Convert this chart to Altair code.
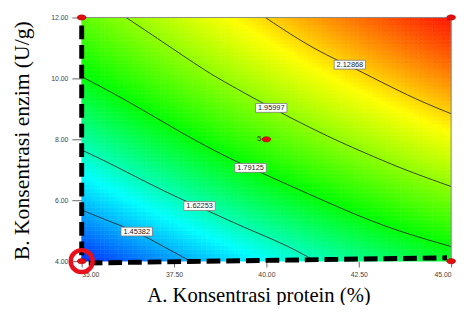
import numpy as np
import pandas as pd
import altair as alt

# ---- data ----
levels = [1.45382, 1.62253, 1.79125, 1.95997, 2.12868]
level_labels = ["1.45382", "1.62253", "1.79125", "1.95997", "2.12868"]

c1_x = [35.0, 35.72, 36.49, 37.18, 37.90]
c1_y = [5.68, 5.32, 4.97, 4.50, 4.03]
c2_x = [35.0, 35.72, 36.70, 37.71, 38.19, 39.44, 40.51, 41.30]
c2_y = [7.65, 7.24, 6.62, 6.02, 5.78, 5.08, 4.55, 4.02]
c3_x = [35.0, 36.25, 37.85, 38.99, 39.57, 41.70, 42.90, 43.96, 45.0]
c3_y = [10.06, 9.26, 8.10, 7.38, 7.06, 5.90, 5.28, 4.84, 4.48]
c4_x = [36.20, 37.13, 38.38, 38.99, 40.13, 41.70, 42.98, 43.78, 45.0]
c4_y = [12.0, 11.25, 10.22, 9.80, 9.03, 8.06, 7.39, 6.98, 6.45]
c5_x = [39.97, 40.90, 41.65, 42.29, 43.43, 44.23, 45.0]
c5_y = [12.0, 11.25, 10.75, 10.39, 9.68, 9.22, 8.84]

label_x = [36.49, 38.19, 39.57, 40.13, 42.26]
label_y = [4.97, 5.81, 7.06, 9.03, 10.45]

design_x = [35, 45, 45, 35, 40]
design_y = [12, 12, 4, 4, 8]
center_label = ["", "", "", "", "5"]

x_ticks = [35, 37.5, 40, 42.5, 45]
y_ticks = [4, 6, 8, 10, 12]

# colour positions (response values) of cyan, green, yellow
mid_stops = [1.55, 1.80, 2.09]
stop_colors = ["#0030ff", "#00ffff", "#00ff00", "#ffff00", "#ff1a00"]

# ---- fitted quadratic response surface from the traced contours ----
cx = [c1_x, c2_x, c3_x, c4_x, c5_x]
cy = [c1_y, c2_y, c3_y, c4_y, c5_y]
rows = []
for k, (xs, ys) in enumerate(zip(cx, cy)):
    for i, (a, b) in enumerate(zip(xs, ys)):
        rows.append({"level": level_labels[k], "idx": i, "x": a, "y": b, "v": levels[k]})
contours = pd.DataFrame(rows)

A = (contours["x"].values - 40) / 5
B = (contours["y"].values - 8) / 4
M = np.column_stack([np.ones_like(A), A, B, A * B, A * A, B * B])
coef, *_ = np.linalg.lstsq(M, contours["v"].values, rcond=None)

nx, ny = 80, 64
xe = np.linspace(35, 45, nx + 1)
ye = np.linspace(4, 12, ny + 1)
xc = (xe[:-1] + xe[1:]) / 2
yc = (ye[:-1] + ye[1:]) / 2
GX, GY = np.meshgrid(xc, yc)
ga = (GX - 40) / 5
gb = (GY - 8) / 4
V = coef[0] + coef[1] * ga + coef[2] * gb + coef[3] * ga * gb + coef[4] * ga ** 2 + coef[5] * gb ** 2
I, J = np.meshgrid(np.arange(nx), np.arange(ny))
grid = pd.DataFrame({
    "x0": xe[I.ravel()], "x1": xe[I.ravel() + 1],
    "y0": ye[J.ravel()], "y1": ye[J.ravel() + 1],
    "v": V.ravel(),
})
vmin, vmax = float(V.min()), float(V.max())
stops = [min(vmin, mid_stops[0] - 0.1)] + mid_stops + [max(vmax, mid_stops[-1] + 0.1)]

xs_ = alt.Scale(domain=[35, 45], nice=False, zero=False)
ys_ = alt.Scale(domain=[4, 12], nice=False, zero=False)
cs = alt.Scale(domain=stops, range=stop_colors, interpolate="rgb")

xaxis = alt.Axis(values=x_ticks, format=".2f", title="A. Konsentrasi protein (%)",
                 titleFont="Liberation Serif", titleFontSize=21, titleFontWeight="normal",
                 titleColor="black", titleX=180, titleY=41, titleBaseline="alphabetic",
                 titleAlign="center", labelFont="Liberation Sans", labelFontSize=7,
                 labelColor="#444", tickColor="#666", tickSize=6, labelPadding=4,
                 domain=False, grid=False)
yaxis = alt.Axis(values=y_ticks, format=".2f", title="B. Konsentrasi enzim (U/g)",
                 titleFont="Liberation Serif", titleFontSize=22, titleFontWeight="normal",
                 titleColor="black", titleAngle=-90, titleX=-54, titleY=125,
                 titleBaseline="alphabetic", titleAlign="center",
                 labelFont="Liberation Sans", labelFontSize=7, labelColor="#444",
                 tickColor="#666", tickSize=10, labelPadding=4, domain=False, grid=False)

heat = alt.Chart(grid).mark_rect(strokeWidth=0.6).encode(
    x=alt.X("x0:Q", scale=xs_, axis=xaxis),
    x2="x1:Q",
    y=alt.Y("y0:Q", scale=ys_, axis=yaxis),
    y2="y1:Q",
    color=alt.Color("v:Q", scale=cs, legend=None),
    stroke=alt.Stroke("v:Q", scale=cs, legend=None),
)

lines = alt.Chart(contours).mark_line(color="#2b2b2b", strokeWidth=0.9, interpolate="basis").encode(
    x=alt.X("x:Q", scale=xs_), y=alt.Y("y:Q", scale=ys_), detail="level:N", order="idx:Q"
)

border = pd.DataFrame({"x": [35, 45], "y": [12, 12], "x2": [45, 45], "y2": [12, 4]})
frame = alt.Chart(border).mark_rule(color="#8a8a8a", strokeWidth=1).encode(
    x=alt.X("x:Q", scale=xs_), y=alt.Y("y:Q", scale=ys_), x2="x2:Q", y2="y2:Q"
)

dash_df = pd.DataFrame({"x": [35.0, 35.19], "y": [4.19, 3.94], "x2": [35.0, 44.89], "y2": [11.94, 4.11]})
dashes = alt.Chart(dash_df).mark_rule(color="black", strokeWidth=5, strokeDash=[14, 6],
                                      strokeCap="butt").encode(
    x=alt.X("x:Q", scale=xs_), y=alt.Y("y:Q", scale=ys_), x2="x2:Q", y2="y2:Q"
)

lab_df = pd.DataFrame({"x": label_x, "y": label_y, "t": level_labels})
box_path = "M -1 -0.28 L 1 -0.28 L 1 0.28 L -1 0.28 Z"
boxes = alt.Chart(lab_df).mark_point(shape=box_path, size=1024, filled=True, fill="white",
                                     stroke="#7a7a7a", strokeWidth=0.8, opacity=1).encode(
    x=alt.X("x:Q", scale=xs_), y=alt.Y("y:Q", scale=ys_)
)
texts = alt.Chart(lab_df).mark_text(font="Liberation Sans", fontSize=7.5, color="#222").encode(
    x=alt.X("x:Q", scale=xs_), y=alt.Y("y:Q", scale=ys_), text="t:N"
)

pts_df = pd.DataFrame({"x": design_x, "y": design_y, "t": center_label})
ell = "M -1 0 A 1 0.6 0 1 0 1 0 A 1 0.6 0 1 0 -1 0 Z"
dots = alt.Chart(pts_df).mark_point(shape=ell, size=81, filled=True, fill="#e30d0d",
                                    stroke="#9a0000", strokeWidth=0.5, opacity=1).encode(
    x=alt.X("x:Q", scale=xs_), y=alt.Y("y:Q", scale=ys_)
)
five = alt.Chart(pts_df).mark_text(font="Liberation Sans", fontSize=8, color="#333",
                                   align="right", dx=-5, baseline="middle").encode(
    x=alt.X("x:Q", scale=xs_), y=alt.Y("y:Q", scale=ys_), text="t:N"
)

ring_df = pd.DataFrame({"x": [35], "y": [4]})
ring = alt.Chart(ring_df).mark_point(shape="circle", size=500, filled=False, color="#e8101a",
                                     strokeWidth=4.5, opacity=1).encode(
    x=alt.X("x:Q", scale=xs_), y=alt.Y("y:Q", scale=ys_)
)

chart = alt.layer(heat, lines, frame, dashes, boxes, texts, dots, five, ring).properties(
    width=376, height=248,
    padding={"left": 75, "top": 7, "right": 7, "bottom": 42},
    autosize=alt.AutoSizeParams(type="none"),
    background="white",
).configure_view(stroke=None)

chart.save("out.html", embed_options={"renderer": "svg", "actions": False})
